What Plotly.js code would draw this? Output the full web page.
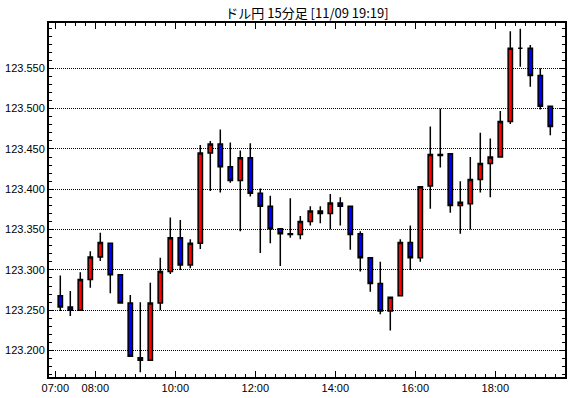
<!DOCTYPE html>
<html>
<head>
<meta charset="utf-8">
<script src="https://cdn.plot.ly/plotly-3.0.1.min.js"></script>
<style>html,body{margin:0;padding:0;background:#fff;}#chart{width:570px;height:398px;}</style>
</head>
<body>
<div id="chart"></div>
<script>
// 15-minute candle start times
var times = ["07:00","07:15","07:30","07:45","08:00","08:15","08:30","08:45",
  "09:00","09:15","09:30","09:45","10:00","10:15","10:30","10:45",
  "11:00","11:15","11:30","11:45","12:00","12:15","12:30","12:45",
  "13:00","13:15","13:30","13:45","14:00","14:15","14:30","14:45",
  "15:00","15:15","15:30","15:45","16:00","16:15","16:30","16:45",
  "17:00","17:15","17:30","17:45","18:00","18:15","18:30","18:45",
  "19:00","19:15"];
var openV = [123.268,123.254,123.250,123.288,123.316,123.333,123.294,123.259,
  123.191,123.188,123.259,123.298,123.340,123.306,123.333,123.445,
  123.456,123.428,123.411,123.439,123.395,123.379,123.351,123.345,
  123.344,123.360,123.373,123.370,123.383,123.379,123.345,123.315,
  123.283,123.249,123.268,123.334,123.315,123.404,123.443,123.444,
  123.380,123.382,123.412,123.432,123.440,123.484,123.575,123.575,
  123.541,123.503];
var highV = [123.293,123.274,123.297,123.323,123.346,123.334,123.295,123.269,
  123.260,123.284,123.315,123.365,123.362,123.338,123.455,123.460,
  123.474,123.458,123.448,123.457,123.401,123.392,123.351,123.389,
  123.367,123.379,123.379,123.394,123.390,123.380,123.348,123.315,
  123.310,123.266,123.338,123.355,123.403,123.478,123.500,123.444,
  123.410,123.440,123.470,123.463,123.497,123.596,123.599,123.579,
  123.550,123.503];
var lowV = [123.249,123.243,123.250,123.278,123.311,123.271,123.259,123.193,
  123.173,123.188,123.250,123.295,123.300,123.302,123.326,123.398,
  123.396,123.408,123.348,123.391,123.321,123.333,123.305,123.340,
  123.338,123.355,123.358,123.350,123.355,123.325,123.298,123.273,
  123.245,123.225,123.268,123.300,123.310,123.376,123.427,123.371,
  123.345,123.350,123.396,123.390,123.440,123.481,123.552,123.527,
  123.499,123.467];
var closeV = [123.254,123.250,123.288,123.316,123.334,123.294,123.259,123.193,
  123.188,123.259,123.298,123.340,123.306,123.333,123.445,123.456,
  123.428,123.411,123.439,123.395,123.379,123.351,123.345,123.344,
  123.360,123.373,123.370,123.383,123.379,123.344,123.315,123.283,
  123.249,123.266,123.334,123.315,123.403,123.443,123.442,123.380,
  123.384,123.412,123.432,123.440,123.484,123.575,123.575,123.541,
  123.503,123.478];
// labelled hour ticks on the time axis
var xTickLabels = ["07:00","08:00","10:00","12:00","14:00","16:00","18:00"];
// price axis labels
var yTickVals = [123.200,123.250,123.300,123.350,123.400,123.450,123.500,123.550];

var xIdx = times.map(function(t,i){return i;});
var xTickVals = xTickLabels.map(function(l){return times.indexOf(l) - 0.5;});

var numFont = {family:"'Liberation Sans',sans-serif", size:11, color:'#000'};

var trace = {
  type:'candlestick',
  x: xIdx, open: openV, high: highV, low: lowV, close: closeV,
  increasing: {line:{color:'#000', width:1.5}, fillcolor:'#ff0000'},
  decreasing: {line:{color:'#000', width:1.5}, fillcolor:'#0000ff'},
  whiskerwidth: 0,
  hoverinfo:'skip',
  showlegend:false
};

var layout = {
  width:570, height:398,
  margin:{l:49, r:5, t:23, b:21, pad:0},
  paper_bgcolor:'#fff', plot_bgcolor:'#fff',
  boxgap:0.38,
  showlegend:false,
  title:{text:'ドル円 15分足 [11/09 19:19]', x:0.5386, xanchor:'center', xref:'container',
         y:0.967, yanchor:'middle', yref:'container',
         font:{family:"'Noto Sans CJK JP','Liberation Sans',sans-serif", size:13, color:'#000'}},
  xaxis:{
    range:[-1.13, 50.47], fixedrange:true,
    rangeslider:{visible:false},
    tickmode:'array', tickvals:xTickVals, ticktext:xTickLabels,
    ticks:'inside', ticklen:6, tickwidth:1, tickcolor:'#000',
    showline:true, linewidth:2, linecolor:'#000', mirror:'ticks',
    showgrid:false, zeroline:false,
    tickfont:numFont,
    minor:{tickmode:'linear', tick0:-0.5, dtick:1, ticks:'inside', ticklen:3, tickwidth:1, tickcolor:'#000', showgrid:false}
  },
  yaxis:{
    range:[123.1672, 123.6062], fixedrange:true,
    tickmode:'array', tickvals:yTickVals, tickformat:'.3f',
    ticks:'inside', ticklen:5, tickwidth:1, tickcolor:'#000',
    showline:true, linewidth:2, linecolor:'#000', mirror:'ticks',
    showgrid:true, gridcolor:'#000', gridwidth:1, griddash:'1px,1px',
    zeroline:false,
    tickfont:numFont,
    minor:{tickmode:'linear', tick0:123.2, dtick:0.01, ticks:'inside', ticklen:3, tickwidth:1, tickcolor:'#000', showgrid:false}
  }
};

Plotly.newPlot('chart', [trace], layout, {staticPlot:true, displayModeBar:false});
</script>
</body>
</html>
